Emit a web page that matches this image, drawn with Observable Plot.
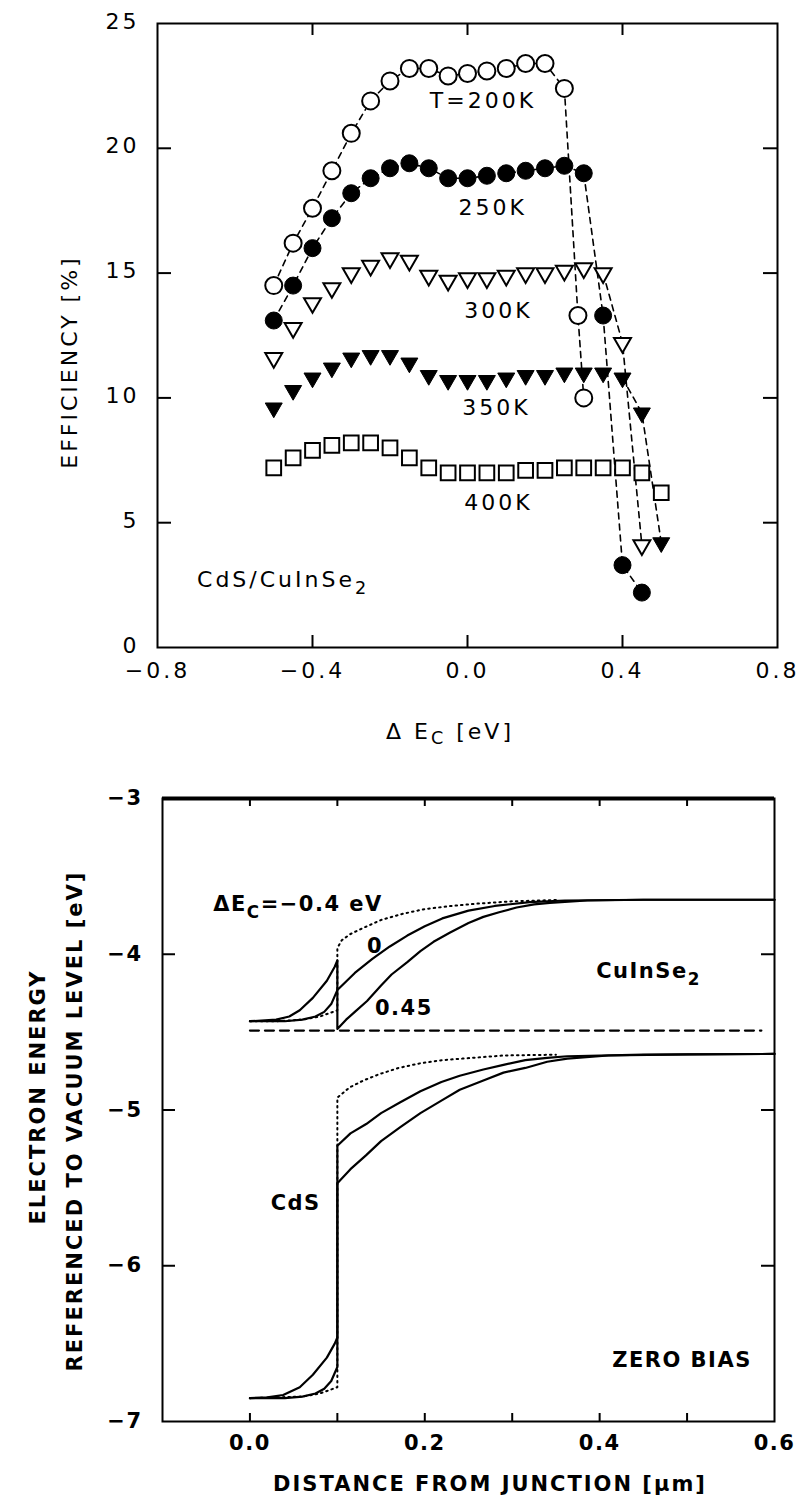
<!DOCTYPE html>
<html><head><meta charset="utf-8">
<script src="https://cdn.jsdelivr.net/npm/d3@7"></script>
<script src="https://cdn.jsdelivr.net/npm/@observablehq/plot@0.6"></script>
<style>
body{margin:0;background:#fff;}
#top,#bottom{width:800px;}
svg{display:block;}
</style></head><body>
<div id="top"></div><div id="bottom"></div>
<script>
// ================= TOP PANEL DATA (efficiency vs ΔEc) =================
const dEc_200K = [-0.5,-0.45,-0.4,-0.35,-0.3,-0.25,-0.2,-0.15,-0.1,-0.05,0,0.05,0.1,0.15,0.2,0.25,0.285,0.3];
const eff_200K = [14.5,16.2,17.6,19.1,20.6,21.9,22.7,23.2,23.2,22.9,23.0,23.1,23.2,23.4,23.4,22.4,13.3,10.0];
const dEc_250K = [-0.5,-0.45,-0.4,-0.35,-0.3,-0.25,-0.2,-0.15,-0.1,-0.05,0,0.05,0.1,0.15,0.2,0.25,0.3,0.35,0.4,0.45];
const eff_250K = [13.1,14.5,16.0,17.2,18.2,18.8,19.2,19.4,19.2,18.8,18.8,18.9,19.0,19.1,19.2,19.3,19.0,13.3,3.3,2.2];
const dEc_300K = [-0.5,-0.45,-0.4,-0.35,-0.3,-0.25,-0.2,-0.15,-0.1,-0.05,0,0.05,0.1,0.15,0.2,0.25,0.3,0.35,0.4,0.45];
const eff_300K = [11.6,12.8,13.8,14.4,15.0,15.3,15.6,15.5,14.9,14.7,14.8,14.8,14.9,15.0,15.0,15.1,15.2,15.0,12.2,4.1];
const dEc_350K = [-0.5,-0.45,-0.4,-0.35,-0.3,-0.25,-0.2,-0.15,-0.1,-0.05,0,0.05,0.1,0.15,0.2,0.25,0.3,0.35,0.4,0.45,0.5];
const eff_350K = [9.6,10.3,10.8,11.2,11.6,11.7,11.7,11.4,10.9,10.7,10.7,10.7,10.8,10.9,10.9,11.0,11.0,11.0,10.8,9.4,4.2];
const dEc_400K = [-0.5,-0.45,-0.4,-0.35,-0.3,-0.25,-0.2,-0.15,-0.1,-0.05,0,0.05,0.1,0.15,0.2,0.25,0.3,0.35,0.4,0.45,0.5];
const eff_400K = [7.2,7.6,7.9,8.1,8.2,8.2,8.0,7.6,7.2,7.0,7.0,7.0,7.0,7.1,7.1,7.2,7.2,7.2,7.2,7.0,6.2];

const topXTicks = [-0.8,-0.4,0.0,0.4,0.8];
const topYTicks = [0,5,10,15,20,25];
const topLabels = [
  {text:"T=200K", x:0.04, y:21.9},
  {text:"250K", x:0.065, y:17.6},
  {text:"300K", x:0.08, y:13.5},
  {text:"350K", x:0.075, y:9.6},
  {text:"400K", x:0.08, y:5.8}
];
const materialLabel = [{text:"CdS/CuInSe_{2}", x:-0.698, y:2.7}];

// ================= BOTTOM PANEL DATA (band diagram) =================
// conduction band, ΔEc = -0.4 eV (dotted)
const cbNeg04_x = [0,0.03,0.06,0.08,0.09,0.1,0.1,0.105,0.115,0.13,0.15,0.175,0.2,0.23,0.26,0.3,0.35];
const cbNeg04_E = [-4.43,-4.43,-4.42,-4.40,-4.38,-4.36,-3.96,-3.91,-3.87,-3.83,-3.78,-3.74,-3.71,-3.69,-3.675,-3.66,-3.652];
// conduction band, ΔEc = 0
const cbZero_x = [0,0.04,0.06,0.075,0.085,0.093,0.1,0.12,0.14,0.16,0.18,0.2,0.22,0.25,0.28,0.32,0.36,0.45,0.6];
const cbZero_E = [-4.43,-4.43,-4.42,-4.40,-4.37,-4.32,-4.23,-4.12,-4.03,-3.95,-3.88,-3.82,-3.77,-3.72,-3.69,-3.665,-3.655,-3.65,-3.65];
// conduction band, ΔEc = 0.45 eV
const cb045_x = [0,0.03,0.045,0.057,0.072,0.088,0.097,0.1,0.1,0.11,0.12,0.134,0.15,0.162,0.18,0.195,0.21,0.229,0.25,0.267,0.285,0.305,0.325,0.343,0.386,0.45,0.6];
const cb045_E = [-4.43,-4.42,-4.40,-4.36,-4.28,-4.17,-4.08,-4.04,-4.48,-4.42,-4.37,-4.30,-4.20,-4.13,-4.05,-3.98,-3.92,-3.86,-3.80,-3.76,-3.73,-3.70,-3.68,-3.67,-3.655,-3.65,-3.65];
// valence band, ΔEc = -0.4 eV (dotted)
const vbNeg04_x = [0,0.06,0.08,0.09,0.1,0.1,0.114,0.13,0.148,0.17,0.195,0.22,0.243,0.29,0.35];
const vbNeg04_E = [-6.85,-6.84,-6.82,-6.80,-6.78,-4.92,-4.855,-4.81,-4.77,-4.73,-4.70,-4.68,-4.67,-4.65,-4.645];
// valence band, ΔEc = 0
const vbZero_x = [0,0.04,0.06,0.075,0.085,0.093,0.1,0.1,0.115,0.133,0.15,0.172,0.195,0.219,0.24,0.267,0.29,0.315,0.34,0.363,0.45,0.6];
const vbZero_E = [-6.85,-6.85,-6.84,-6.82,-6.79,-6.74,-6.65,-5.23,-5.15,-5.09,-5.02,-4.95,-4.88,-4.82,-4.78,-4.74,-4.71,-4.68,-4.665,-4.655,-4.645,-4.64];
// valence band, ΔEc = 0.45 eV
const vb045_x = [0,0.02,0.038,0.057,0.072,0.088,0.097,0.1,0.1,0.115,0.133,0.15,0.172,0.195,0.219,0.24,0.267,0.29,0.315,0.34,0.363,0.41,0.5,0.6];
const vb045_E = [-6.85,-6.845,-6.83,-6.78,-6.70,-6.59,-6.50,-6.46,-5.47,-5.38,-5.29,-5.20,-5.11,-5.02,-4.94,-4.87,-4.81,-4.76,-4.73,-4.69,-4.67,-4.65,-4.643,-4.64];
// Fermi level (dashed)
const fermi_x = [0, 0.585];
const fermi_E = [-4.49, -4.49];

const botXTicks = [0,0.1,0.2,0.3,0.4,0.5];
const botXLabels = [0.0,0.2,0.4,0.6];
const botYTicks = [-4,-5,-6];
const botYLabels = [-3,-4,-5,-6,-7];
const botLabels = [
  {text:"ΔE_{C}=−0.4 eV", x:-0.042, y:-3.68, anchor:"start"},
  {text:"0", x:0.143, y:-3.95, anchor:"middle"},
  {text:"0.45", x:0.143, y:-4.35, anchor:"start"},
  {text:"CuInSe_{2}", x:0.396, y:-4.11, anchor:"start"},
  {text:"CdS", x:0.081, y:-5.60, anchor:"end"},
  {text:"ZERO BIAS", x:0.574, y:-6.61, anchor:"end"}
];

// ================= helpers =================
const rows = (xs, ys) => xs.map((x, i) => ({x, y: ys[i]}));
const fmt1 = d3.format(".1f");
const fmt0 = d3.format("d");

function applySubscripts(svg) {
  d3.select(svg).selectAll("text").each(function () {
    const t = this.textContent;
    if (!t.includes("_{")) return;
    const parts = t.split(/(_\{[^}]*\})/).filter(p => p);
    const sel = d3.select(this);
    sel.text(null);
    let prevSub = false;
    for (const p of parts) {
      const m = p.match(/^_\{(.*)\}$/);
      if (m) {
        sel.append("tspan").attr("dy", 7).attr("font-size", "0.8em").text(m[1]);
        prevSub = true;
      } else {
        const ts = sel.append("tspan").text(p);
        if (prevSub) ts.attr("dy", -7);
        prevSub = false;
      }
    }
  });
}

// ================= TOP PANEL =================
const TW = 800, TH = 760, TML = 157, TMR = 23, TMT = 23, TMB = 113;
const tInnerW = TW - TML - TMR, tInnerH = TH - TMT - TMB;
const r200 = rows(dEc_200K, eff_200K);
const r250 = rows(dEc_250K, eff_250K);
const r300 = rows(dEc_300K, eff_300K);
const r350 = rows(dEc_350K, eff_350K);
const r400 = rows(dEc_400K, eff_400K);
const dash = {stroke: "black", strokeWidth: 1.6, strokeDasharray: "6,5"};

const topPlot = Plot.plot({
  width: TW, height: TH,
  marginLeft: TML, marginRight: TMR, marginTop: TMT, marginBottom: TMB,
  x: {domain: [-0.8, 0.8], axis: null},
  y: {domain: [0, 25], axis: null},
  style: {fontFamily: "DejaVu Sans", fontSize: "22px", letterSpacing: "3px", color: "black", background: "white", overflow: "visible"},
  marks: [
    Plot.frame({stroke: "black", strokeWidth: 2}),
    // inward ticks
    Plot.ruleX(topXTicks.slice(1, -1), {x: d => d, insetTop: tInnerH - 12, strokeWidth: 2}),
    Plot.ruleX(topXTicks.slice(1, -1), {x: d => d, insetBottom: tInnerH - 12, strokeWidth: 2}),
    Plot.ruleY(topYTicks.slice(1, -1), {y: d => d, insetRight: tInnerW - 14, strokeWidth: 2}),
    Plot.ruleY(topYTicks.slice(1, -1), {y: d => d, insetLeft: tInnerW - 14, strokeWidth: 2}),
    // tick labels
    Plot.text(topXTicks, {x: d => d, frameAnchor: "bottom", dy: 30, text: d => fmt1(d), fill: "black"}),
    Plot.text(topYTicks, {y: d => d, frameAnchor: "left", dx: -18, dy: -2, textAnchor: "end", text: d => fmt0(d), fill: "black"}),
    // dashed guide curves
    Plot.line(r200, {x: "x", y: "y", ...dash}),
    Plot.line(r250, {x: "x", y: "y", ...dash}),
    Plot.line(r300.filter(d => d.x >= 0.35), {x: "x", y: "y", ...dash}),
    Plot.line(r350.filter(d => d.x >= 0.4), {x: "x", y: "y", ...dash}),
    // markers
    Plot.dot(r400, {x: "x", y: "y", symbol: "square", r: 8.3, fill: "white", stroke: "black", strokeWidth: 2}),
    Plot.dot(r350, {x: "x", y: "y", symbol: "triangle", rotate: 180, r: 6.3, fill: "black", stroke: "black", strokeWidth: 1}),
    Plot.dot(r300, {x: "x", y: "y", symbol: "triangle", rotate: 180, r: 6.3, fill: "white", stroke: "black", strokeWidth: 2}),
    Plot.dot(r250, {x: "x", y: "y", r: 8.5, fill: "black", stroke: "black", strokeWidth: 1}),
    Plot.dot(r200, {x: "x", y: "y", r: 8.5, fill: "white", stroke: "black", strokeWidth: 2}),
    // annotations
    Plot.text(topLabels, {x: "x", y: "y", text: "text", fill: "black"}),
    Plot.text(materialLabel, {x: "x", y: "y", text: "text", textAnchor: "start", fill: "black"})
  ]
});
{
  const s = d3.select(topPlot);
  s.append("text").attr("transform", "translate(69,362) rotate(-90)")
    .attr("text-anchor", "middle").attr("dominant-baseline", "central")
    .attr("fill", "black").text("EFFICIENCY [%]");
  s.append("text").attr("x", 450).attr("y", 731)
    .attr("text-anchor", "middle").attr("dominant-baseline", "central")
    .attr("fill", "black").text("Δ E_{C} [eV]");
}
applySubscripts(topPlot);
document.getElementById("top").appendChild(topPlot);

// ================= BOTTOM PANEL =================
const BW = 800, BH = 746, BML = 162, BMR = 26, BMT = 38, BMB = 85;
const bInnerW = BW - BML - BMR, bInnerH = BH - BMT - BMB;
const solid = {stroke: "black", strokeWidth: 2.2, strokeLinejoin: "round"};
const dotted = {stroke: "black", strokeWidth: 2, strokeDasharray: "1.5,4", strokeLinecap: "round"};

const botPlot = Plot.plot({
  width: BW, height: BH,
  marginLeft: BML, marginRight: BMR, marginTop: BMT, marginBottom: BMB,
  x: {domain: [-0.1, 0.6], axis: null},
  y: {domain: [-7, -3], axis: null},
  style: {fontFamily: "DejaVu Sans", fontSize: "21px", fontWeight: "bold", letterSpacing: "1.5px", color: "black", background: "white", overflow: "visible"},
  marks: [
    Plot.frame({stroke: "black", strokeWidth: 2}),
    Plot.ruleY([-3], {y: d => d, strokeWidth: 4}),
    Plot.ruleX(botXTicks, {x: d => d, insetTop: bInnerH - 8, strokeWidth: 2}),
    Plot.ruleX(botXTicks, {x: d => d, insetBottom: bInnerH - 8, strokeWidth: 2}),
    Plot.ruleY(botYTicks, {y: d => d, insetRight: bInnerW - 13, strokeWidth: 2}),
    Plot.ruleY(botYTicks, {y: d => d, insetLeft: bInnerW - 13, strokeWidth: 2}),
    Plot.text(botXLabels, {x: d => d, frameAnchor: "bottom", dy: 28, text: d => fmt1(d), fill: "black"}),
    Plot.text(botYLabels, {y: d => d, frameAnchor: "left", dx: -20, textAnchor: "end", text: d => fmt0(d), fill: "black"}),
    // Fermi level
    Plot.line(rows(fermi_x, fermi_E), {x: "x", y: "y", stroke: "black", strokeWidth: 2.2, strokeDasharray: "9,6"}),
    // dotted ΔEc = -0.4 eV
    Plot.line(rows(cbNeg04_x, cbNeg04_E), {x: "x", y: "y", ...dotted}),
    Plot.line(rows(vbNeg04_x, vbNeg04_E), {x: "x", y: "y", ...dotted}),
    // solid ΔEc = 0 and 0.45 eV
    Plot.line(rows(cbZero_x, cbZero_E), {x: "x", y: "y", ...solid}),
    Plot.line(rows(cb045_x, cb045_E), {x: "x", y: "y", ...solid}),
    Plot.line(rows(vbZero_x, vbZero_E), {x: "x", y: "y", ...solid}),
    Plot.line(rows(vb045_x, vb045_E), {x: "x", y: "y", ...solid}),
    // annotations
    Plot.text(botLabels.filter(d => d.anchor === "start"), {x: "x", y: "y", text: "text", textAnchor: "start", fill: "black"}),
    Plot.text(botLabels.filter(d => d.anchor === "middle"), {x: "x", y: "y", text: "text", fill: "black"}),
    Plot.text(botLabels.filter(d => d.anchor === "end"), {x: "x", y: "y", text: "text", textAnchor: "end", fill: "black"})
  ]
});
{
  const s = d3.select(botPlot);
  s.append("text").attr("x", 490).attr("y", 724)
    .attr("text-anchor", "middle").attr("dominant-baseline", "central")
    .attr("fill", "black").style("letter-spacing", "2px").text("DISTANCE FROM JUNCTION [μm]");
  s.append("text").attr("transform", "translate(38,337) rotate(-90)")
    .attr("text-anchor", "middle").attr("dominant-baseline", "central")
    .attr("fill", "black").style("letter-spacing", "2px").text("ELECTRON ENERGY");
  s.append("text").attr("transform", "translate(75,361) rotate(-90)")
    .attr("text-anchor", "middle").attr("dominant-baseline", "central")
    .attr("fill", "black").style("letter-spacing", "2px").text("REFERENCED TO VACUUM LEVEL [eV]");
}
applySubscripts(botPlot);
document.getElementById("bottom").appendChild(botPlot);
</script>
</body></html>
